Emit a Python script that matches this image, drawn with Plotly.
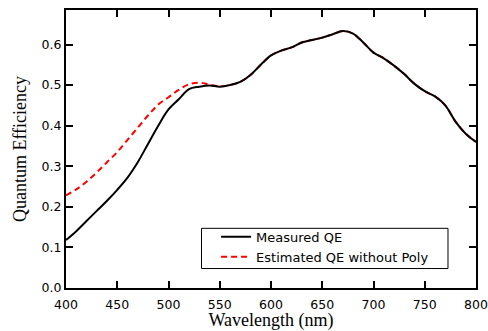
import plotly.graph_objects as go

wavelength = [400, 410, 420, 430, 440, 450, 460, 470, 480, 490, 500, 510, 520, 530, 540, 550,
              560, 570, 580, 590, 600, 610, 620, 630, 640, 650, 660, 670, 680, 690, 700,
              710, 720, 730, 740, 750, 760, 770, 780, 790, 800]
measured_qe = [0.118, 0.14, 0.165, 0.19, 0.215, 0.242, 0.272, 0.31, 0.355, 0.40, 0.44, 0.465, 0.49,
               0.496, 0.499, 0.496, 0.50, 0.508, 0.525, 0.55, 0.573, 0.585, 0.593, 0.605, 0.611,
               0.617, 0.625, 0.633, 0.627, 0.605, 0.58, 0.566, 0.548, 0.527, 0.503, 0.485,
               0.472, 0.45, 0.41, 0.38, 0.36]
estimated_qe = [0.228, 0.243, 0.262, 0.285, 0.31, 0.335, 0.365, 0.395, 0.425, 0.452, 0.47, 0.488,
                0.502, 0.506, 0.501, 0.497, 0.50, 0.508, 0.525, 0.55, 0.573, 0.585, 0.593, 0.605,
                0.611, 0.617, 0.625, 0.633, 0.627, 0.605, 0.58, 0.566, 0.548, 0.527, 0.503, 0.485,
                0.472, 0.45, 0.41, 0.38, 0.36]

fig = go.Figure()
fig.add_trace(go.Scatter(x=wavelength, y=estimated_qe, mode="lines", name="Estimated QE without Poly",
                         line=dict(color="red", width=2, dash="6px,4px", shape="spline")))
fig.add_trace(go.Scatter(x=wavelength, y=measured_qe, mode="lines", name="Measured QE",
                         line=dict(color="black", width=2, shape="spline")))

axis_common = dict(showline=True, linecolor="black", linewidth=2, mirror="ticks",
                   ticks="inside", ticklen=7, tickwidth=2, tickcolor="black",
                   showgrid=False, zeroline=False, automargin=False,
                   tickfont=dict(family="DejaVu Sans", size=12.5, color="black"))

fig.update_layout(
    width=488, height=331,
    margin=dict(l=66, r=12, t=10, b=43),
    paper_bgcolor="white", plot_bgcolor="white",
    xaxis=dict(range=[400, 800], dtick=50, tickformat="d", ticklabelstandoff=4,
               title=dict(text="Wavelength (nm)", font=dict(family="Liberation Serif", size=18, color="black"),
                          standoff=6),
               **axis_common),
    yaxis=dict(range=[0, 0.685], dtick=0.1, tickformat=".1f",
               title=dict(text="Quantum Efficiency", font=dict(family="Liberation Serif", size=18, color="black"),
                          standoff=10),
               **axis_common),
    legend=dict(x=0.366, y=0.238, xanchor="left", yanchor="top", traceorder="reversed",
                borderwidth=0, bgcolor="rgba(0,0,0,0)",
                font=dict(family="DejaVu Sans", size=13, color="black"),
                tracegroupgap=0, itemwidth=30),
    shapes=[dict(type="rect", xref="paper", yref="paper",
                 x0=0.3305, x1=0.9317, y0=0.070, y1=0.2147,
                 line=dict(color="black", width=1), layer="above")],
    showlegend=True,
)

fig.write_html("out.html", config={"displayModeBar": False},
               post_script="document.body.style.margin='0';document.body.style.overflow='hidden';")
